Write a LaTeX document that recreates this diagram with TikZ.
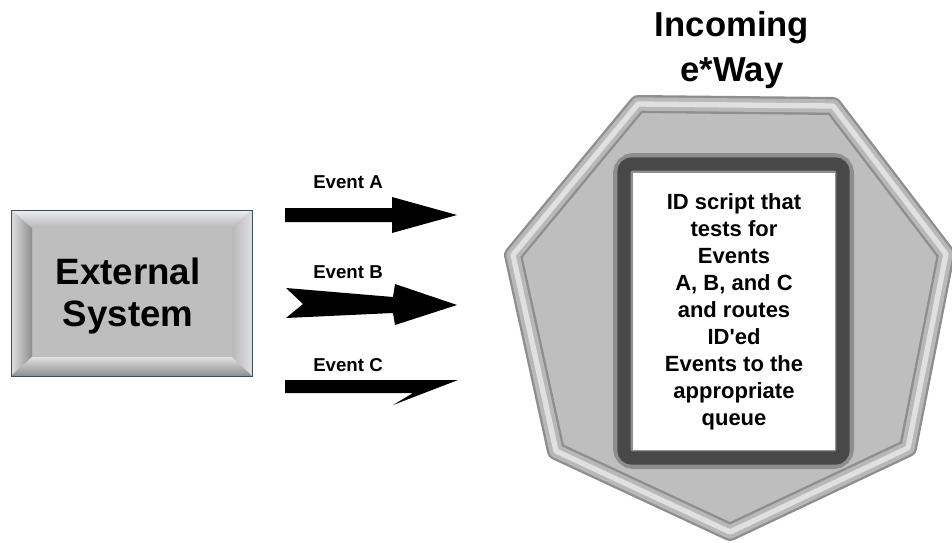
\documentclass[tikz,border=0pt]{standalone}
\usepackage{fontspec}
\setmainfont{Liberation Sans}
\definecolor{facegray}{HTML}{BEBEBE}
\definecolor{rimdark}{HTML}{8E8E8E}
\definecolor{rimmid}{HTML}{B8B8B8}
\definecolor{rimlight}{HTML}{E0E0E0}
\definecolor{framelight}{HTML}{8E8E8E}
\definecolor{framedark}{HTML}{484848}
\definecolor{edgeblue}{HTML}{3E4C5C}
\tikzset{
  evlabel/.style={font=\bfseries\fontsize{14}{16}\selectfont},
  evarrow/.style={fill=black},
  rimline/.style={line join=round},
}
\begin{document}
\begin{tikzpicture}[x=0.75pt,y=-0.75pt]
  \useasboundingbox (0,0) rectangle (952,542);
  % external system box
  \fill[facegray] (11,210) rectangle (252,376);
  \shade[top color=rimlight!60!white, bottom color=rimmid] (11,210) -- (252,210) -- (232,228) -- (32,228) -- cycle;
  \shade[left color=rimlight, right color=framelight] (11,210) -- (32,228) -- (32,357) -- (11,376) -- cycle;
  \shade[left color=rimmid, right color=rimlight] (252,210) -- (232,228) -- (232,357) -- (252,376) -- cycle;
  \shade[top color=rimlight, bottom color=rimdark] (11,376) -- (32,357) -- (232,357) -- (252,376) -- cycle;
  \draw[edgeblue, line width=0.75pt] (11,210) rectangle (252,376);
  \node[font=\bfseries\fontsize{27.5}{32}\selectfont, align=center] (ext) at (128,296) {External\\System};
  % event arrows
  \fill[evarrow] (285,208) -- (392,208) -- (392,197) -- (457,215) -- (392,233) -- (392,222) -- (285,222) -- cycle;
  \fill[evarrow] (286,288) -- (393,297) -- (395,284) -- (457,305) -- (395,325) -- (393,313) -- (286,318) -- (303,304) -- cycle;
  \fill[evarrow] (285,380) -- (458,380) -- (393,405) -- (413,393) -- (285,393) -- cycle;
  \node[evlabel] (lblA) at (348,182) {Event A};
  \node[evlabel] (lblB) at (348,272) {Event B};
  \node[evlabel] (lblC) at (348,365) {Event C};
  % incoming e*Way
  \node[font=\bfseries\fontsize{26}{34}\selectfont, align=center] (title) at (732,50) {Incoming\\e*Way};
  \fill[facegray] (638,104) -- (833,106) -- (946,254) -- (908,448) -- (730,532) -- (556,451) -- (513,255) -- cycle;
  \begin{scope}[rimline]
    \draw[rimdark, line width=13.5pt] (638,104) -- (833,106) -- (946,254) -- (908,448) -- (730,532) -- (556,451) -- (513,255) -- cycle;
    \draw[rimmid, line width=10pt] (638,104) -- (833,106) -- (946,254) -- (908,448) -- (730,532) -- (556,451) -- (513,255) -- cycle;
    \draw[rimlight, line width=4pt] (638,104) -- (833,106) -- (946,254) -- (908,448) -- (730,532) -- (556,451) -- (513,255) -- cycle;
  \end{scope}
  \draw[framelight, line width=15pt, rounded corners=8pt] (623,163) rectangle (844,459);
  \draw[framedark, line width=10pt, rounded corners=6pt] (624,164) rectangle (843,458);
  \fill[white] (633,173) rectangle (835,450);
  \node[font=\bfseries\fontsize{16.5}{20.3}\selectfont, align=center] (idscript) at (734,312)
    {ID script that\\tests for\\Events\\A, B, and C\\and routes\\ID\textquotesingle ed\\Events to the\\appropriate\\queue};
\end{tikzpicture}
\end{document}
